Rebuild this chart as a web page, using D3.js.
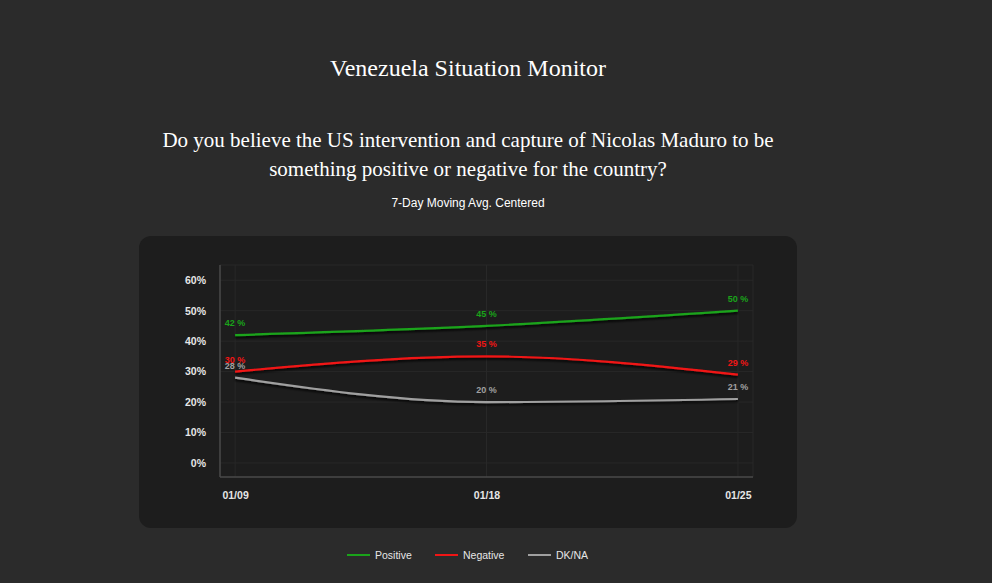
<html>
<head>
    <meta charset="utf-8">
    <title>Venezuela Situation Monitor</title>
    <style>
        body { margin: 0; background: #2b2b2b; overflow: hidden; }
    </style>
</head>
<body>
<script src="https://cdn.jsdelivr.net/npm/d3@7"></script>
<script>
    // data
    var dates = ["01/09", "01/18", "01/25"];
    var positive = [42, 45, 50];
    var negative = [30, 35, 29];
    var dkna = [28, 20, 21];
    var yTicks = [0, 10, 20, 30, 40, 50, 60];

    var series = [
        { name: "Positive", values: positive, color: "#1aa31a" },
        { name: "Negative", values: negative, color: "#f01515" },
        { name: "DK/NA", values: dkna, color: "#a0a0a0" }
    ];

    var width = 992, height = 583;
    var svg = d3.select("body").append("svg")
        .attr("width", width)
        .attr("height", height);

    // drop shadow for lines
    var defs = svg.append("defs");
    var f = defs.append("filter").attr("id", "shadow").attr("x", "-5%").attr("y", "-50%")
        .attr("width", "110%").attr("height", "200%");
    f.append("feDropShadow").attr("dx", 0).attr("dy", 2).attr("stdDeviation", 1)
        .attr("flood-color", "#000").attr("flood-opacity", 0.9);

    // titles
    var serif = "Liberation Serif, Times New Roman, serif";
    var sans = "Liberation Sans, Arial, sans-serif";
    svg.append("text").attr("x", 468).attr("y", 76).attr("text-anchor", "middle")
        .attr("font-family", serif).attr("font-size", 24).attr("fill", "#fff")
        .text("Venezuela Situation Monitor");
    svg.append("text").attr("x", 468).attr("y", 147).attr("text-anchor", "middle")
        .attr("font-family", serif).attr("font-size", 21).attr("fill", "#fff")
        .text("Do you believe the US intervention and capture of Nicolas Maduro to be");
    svg.append("text").attr("x", 468).attr("y", 176).attr("text-anchor", "middle")
        .attr("font-family", serif).attr("font-size", 21).attr("fill", "#fff")
        .text("something positive or negative for the country?");
    svg.append("text").attr("x", 468).attr("y", 207).attr("text-anchor", "middle")
        .attr("font-family", sans).attr("font-size", 12).attr("fill", "#fff")
        .text("7-Day Moving Avg. Centered");

    // card
    svg.append("rect").attr("x", 139).attr("y", 236).attr("width", 658).attr("height", 292)
        .attr("rx", 12).attr("fill", "#1d1d1d");

    var plotLeft = 220, plotRight = 753, plotTop = 265, plotBottom = 477;

    var x = d3.scalePoint().domain(dates).range([plotLeft, plotRight]).padding(0.06);
    var y = d3.scaleLinear().domain([-4.6, 65]).range([plotBottom, plotTop]);

    var g = svg.append("g");

    // grid
    g.selectAll(".hgrid").data(yTicks.concat([65])).enter().append("line")
        .attr("x1", plotLeft).attr("x2", plotRight)
        .attr("y1", d => y(d)).attr("y2", d => y(d))
        .attr("stroke", "#282828").attr("stroke-width", 1);
    g.selectAll(".vgrid").data(dates).enter().append("line")
        .attr("x1", d => x(d)).attr("x2", d => x(d))
        .attr("y1", plotTop).attr("y2", plotBottom)
        .attr("stroke", "#282828").attr("stroke-width", 1);
    g.append("line").attr("x1", plotRight).attr("x2", plotRight).attr("y1", plotTop).attr("y2", plotBottom)
        .attr("stroke", "#282828");

    // axes lines
    g.append("line").attr("x1", plotLeft).attr("x2", plotLeft).attr("y1", plotTop).attr("y2", plotBottom)
        .attr("stroke", "#4a4a4a").attr("stroke-width", 1.5);
    g.append("line").attr("x1", plotLeft).attr("x2", plotRight).attr("y1", plotBottom).attr("y2", plotBottom)
        .attr("stroke", "#4a4a4a").attr("stroke-width", 1.5);

    // y axis
    var yAxis = d3.axisLeft(y).tickValues(yTicks).tickFormat(d => d + "%").tickSize(0).tickPadding(14);
    var ya = g.append("g").attr("transform", "translate(" + plotLeft + ",0)").call(yAxis);
    ya.select(".domain").remove();
    ya.selectAll("text").attr("fill", "#e6e6e6").attr("font-size", 10.5).attr("font-weight", "bold")
        .attr("font-family", sans);

    // x axis
    var xAxis = d3.axisBottom(x).tickSize(0).tickPadding(15);
    var xa = g.append("g").attr("transform", "translate(0," + plotBottom + ")").call(xAxis);
    xa.select(".domain").remove();
    xa.selectAll("text").attr("fill", "#e6e6e6").attr("font-size", 10.5).attr("font-weight", "bold")
        .attr("font-family", sans);

    // lines
    var line = d3.line()
        .x((d, i) => x(dates[i]))
        .y(d => y(d))
        .curve(d3.curveMonotoneX);

    series.forEach(function (s) {
        g.append("path").datum(s.values)
            .attr("d", line)
            .attr("fill", "none")
            .attr("stroke", s.color)
            .attr("stroke-width", 2.2)
            .attr("filter", "url(#shadow)");
    });

    // value labels
    series.forEach(function (s) {
        g.selectAll(null).data(s.values).enter().append("text")
            .attr("x", (d, i) => x(dates[i]))
            .attr("y", d => y(d) - 9)
            .attr("text-anchor", "middle")
            .attr("font-family", sans)
            .attr("font-size", 9)
            .attr("font-weight", "bold")
            .attr("fill", s.color)
            .text(d => d + " %");
    });

    // legend
    var legendX = [347, 435, 528];
    var lg = svg.selectAll(".legend").data(series).enter().append("g")
        .attr("transform", (d, i) => "translate(" + legendX[i] + ",555)");
    lg.append("line").attr("x1", 0).attr("x2", 23).attr("y1", 0).attr("y2", 0)
        .attr("stroke", d => d.color).attr("stroke-width", 2);
    lg.append("text").attr("x", 28).attr("y", 4)
        .attr("font-family", sans).attr("font-size", 10.5)
        .attr("fill", "#e6e6e6")
        .text(d => d.name);
</script>
</body>
</html>
